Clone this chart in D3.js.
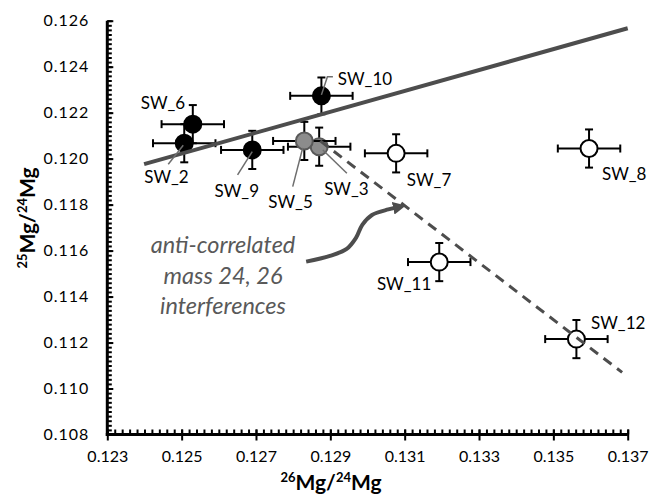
<!DOCTYPE html>
<html><head><meta charset="utf-8">
<script src="https://cdn.jsdelivr.net/npm/d3@7"></script>
<style>
html,body{margin:0;padding:0;background:#fff;}
svg{display:block;font-family:Lato,"Open Sans",sans-serif;}
</style></head>
<body><svg id="c" width="651" height="496"></svg>
<script>
// ---- data ----
const samples = ["SW_2","SW_3","SW_5","SW_6","SW_7","SW_8","SW_9","SW_10","SW_11","SW_12"];
const mg26 = [0.12507,0.12870,0.12830,0.12530,0.13077,0.13596,0.12690,0.12876,0.13193,0.13562];
const mg25 = [0.12067,0.12052,0.12077,0.12150,0.12023,0.12044,0.12038,0.12273,0.11550,0.11215];
const mg26Err = [0.00084,0.00084,0.00084,0.00084,0.00084,0.00084,0.00084,0.00084,0.00084,0.00084];
const mg25Err = [0.00083,0.00083,0.00083,0.00083,0.00083,0.00083,0.00083,0.00080,0.00083,0.00083];
const groups = ["filled","grey","grey","filled","open","open","filled","filled","open","open"];
const xTicks = [0.123,0.125,0.127,0.129,0.131,0.133,0.135,0.137];
const yTicks = [0.108,0.110,0.112,0.114,0.116,0.118,0.120,0.122,0.124,0.126];
const trendX = [0.12399,0.137];
const trendY = [0.11976,0.12567];
const interfX = [0.12873,0.13685];
const interfY = [0.12077,0.11070];
const arrowX = [0.12835,0.12899,0.12944,0.12969,0.12986,0.13012,0.13056,0.13099];
const arrowY = [0.11552,0.11577,0.11607,0.11655,0.11712,0.11755,0.11779,0.11789];
const noteLines = ["anti-correlated","mass 24, 26","interferences"];

// ---- layout / style ----
const L=107.3, R=627.7, T=20.7, B=434.5;
const fills = {filled:"#000", grey:"#8c8c8c", open:"#fff"};
const strokes = {filled:"#000", grey:"#595959", open:"#000"};
const labelPos = { // dx,dy of label; leader (relative points) or null
  "SW_2":{dx:-40,dy:40,lead:[[-16,21],[-1,2]]},
  "SW_3":{dx:5,dy:48,lead:[[27.7,26.6],[3.7,3.3]]},
  "SW_5":{dx:-36,dy:67,lead:[[-11.6,45.7],[-1.6,7]]},
  "SW_6":{dx:-52,dy:-15,lead:null},
  "SW_7":{dx:10.7,dy:32.7,lead:null},
  "SW_8":{dx:13,dy:31.3,lead:null},
  "SW_9":{dx:-37.7,dy:46.7,lead:[[-14.7,25],[0,1.7]]},
  "SW_10":{dx:16.4,dy:-11,lead:[[0,-1],[6,-19],[11.5,-19]]},
  "SW_11":{dx:-62.3,dy:27.7,lead:null},
  "SW_12":{dx:14.7,dy:-10.3,lead:null}
};

const svg = d3.select("#c");
const x = d3.scaleLinear().domain([0.123,0.137]).range([L,R]);
const y = d3.scaleLinear().domain([0.108,0.126]).range([B,T]);
const data = samples.map((s,i)=>({s,x:mg26[i],y:mg25[i],ex:mg26Err[i],ey:mg25Err[i],g:groups[i]}));

// minor ticks
const xMinor = d3.range(0,71).map(i=>+(0.123+i*0.0002).toFixed(4));
const yMinor = d3.range(0,91).map(i=>+(0.108+i*0.0002).toFixed(4));

function styleAxis(g){
  g.selectAll(".tick line").attr("stroke","#000").attr("stroke-width",2);
  g.select(".domain").remove();
}
// x axis
svg.append("g").attr("transform",`translate(0,${B})`)
  .call(d3.axisTop(x).tickValues(xMinor).tickSize(5).tickFormat("")).call(styleAxis);
const gx = svg.append("g").attr("transform",`translate(0,${B})`)
  .call(d3.axisBottom(x).tickValues(xTicks).tickSize(6).tickPadding(10).tickFormat(d3.format(".3f")));
styleAxis(gx);
gx.selectAll(".tick line").attr("y1",-5);
gx.selectAll("text").attr("font-family","Lato").attr("font-size",16).attr("fill","#000");
// y axis
svg.append("g").attr("transform",`translate(${L},0)`)
  .call(d3.axisRight(y).tickValues(yMinor).tickSize(4.5).tickFormat("")).call(styleAxis);
const gy = svg.append("g").attr("transform",`translate(${L},0)`)
  .call(d3.axisLeft(y).tickValues(yTicks).tickSize(7).tickPadding(11).tickFormat(d3.format(".3f")));
styleAxis(gy);
gy.selectAll(".tick line").attr("x2",6);
gy.selectAll("text").attr("font-family","Lato").attr("font-size",16).attr("letter-spacing","1px").attr("fill","#000");
// axis lines
svg.append("line").attr("x1",L).attr("x2",L).attr("y1",T).attr("y2",B+1.5).attr("stroke","#000").attr("stroke-width",3);
svg.append("line").attr("x1",L-1.5).attr("x2",R).attr("y1",B).attr("y2",B).attr("stroke","#000").attr("stroke-width",3);

// error bars + markers
const cap=4;
const pg = svg.append("g");
data.forEach(d=>{
  const cx=x(d.x), cy=y(d.y), x0=x(d.x-d.ex), x1=x(d.x+d.ex), y0=y(d.y-d.ey), y1=y(d.y+d.ey);
  const g = pg.append("g").attr("stroke","#000").attr("stroke-width",2);
  g.append("line").attr("x1",x0).attr("x2",x1).attr("y1",cy).attr("y2",cy);
  g.append("line").attr("x1",x0).attr("x2",x0).attr("y1",cy-cap).attr("y2",cy+cap);
  g.append("line").attr("x1",x1).attr("x2",x1).attr("y1",cy-cap).attr("y2",cy+cap);
  g.append("line").attr("x1",cx).attr("x2",cx).attr("y1",y0).attr("y2",y1);
  g.append("line").attr("x1",cx-cap).attr("x2",cx+cap).attr("y1",y0).attr("y2",y0);
  g.append("line").attr("x1",cx-cap).attr("x2",cx+cap).attr("y1",y1).attr("y2",y1);
  pg.append("circle").attr("cx",cx).attr("cy",cy).attr("r",8.5)
    .attr("fill",fills[d.g]).attr("stroke",strokes[d.g]).attr("stroke-width",2);
});

// trend lines
svg.append("line").attr("x1",x(trendX[0])).attr("y1",y(trendY[0])).attr("x2",x(trendX[1])).attr("y2",y(trendY[1]))
  .attr("stroke","#4d4d4d").attr("stroke-width",4);
svg.append("line").attr("x1",x(interfX[0])).attr("y1",y(interfY[0])).attr("x2",x(interfX[1])).attr("y2",y(interfY[1]))
  .attr("stroke","#4d4d4d").attr("stroke-width",3).attr("stroke-dasharray","10,7");

// labels + leaders
data.forEach(d=>{
  const p = labelPos[d.s], cx=x(d.x), cy=y(d.y);
  if(p.lead){
    svg.append("polyline").attr("points",p.lead.map(q=>[cx+q[0],cy+q[1]].join(",")).join(" "))
      .attr("fill","none").attr("stroke","#6e6e6e").attr("stroke-width",1.5);
  }
  svg.append("text").attr("x",cx+p.dx).attr("y",cy+p.dy).attr("font-size",17).attr("fill","#000").text(d.s);
});

// arrow
const defs = svg.append("defs");
defs.append("marker").attr("id","ah").attr("markerUnits","userSpaceOnUse")
  .attr("viewBox","0 0 12 12").attr("refX",2).attr("refY",6).attr("markerWidth",13).attr("markerHeight",13)
  .attr("orient","auto").append("path").attr("d","M0,0 L12,6 L0,12 Z").attr("fill","#4d4d4d");
const arrowPts = arrowX.map((v,i)=>[x(v),y(arrowY[i])]);
const last = arrowPts[arrowPts.length-1];
arrowPts[arrowPts.length-1] = [last[0]-9,last[1]+0.6];
svg.append("path").attr("d",d3.line().curve(d3.curveCatmullRom)(arrowPts))
  .attr("fill","none").attr("stroke","#4d4d4d").attr("stroke-width",4).attr("marker-end","url(#ah)");

// annotation text
noteLines.forEach((t,i)=>{
  svg.append("text").attr("x",223).attr("y",253+i*30.5).attr("text-anchor","middle")
    .attr("font-style","italic").attr("font-size",23.5).attr("fill","#595959").text(t);
});

// axis titles
const xt = svg.append("text").attr("x",331).attr("y",490).attr("text-anchor","middle")
  .attr("font-weight","bold").attr("font-size",21).attr("fill","#000");
xt.append("tspan").attr("font-size",13).attr("dy",-8).text("26");
xt.append("tspan").attr("dy",8).text("Mg/");
xt.append("tspan").attr("font-size",13).attr("dy",-8).text("24");
xt.append("tspan").attr("dy",8).text("Mg");
const yt = svg.append("text").attr("transform","translate(35,218) rotate(-90)").attr("text-anchor","middle")
  .attr("font-weight","bold").attr("font-size",21).attr("fill","#000");
yt.append("tspan").attr("font-size",13).attr("dy",-8).text("25");
yt.append("tspan").attr("dy",8).text("Mg/");
yt.append("tspan").attr("font-size",13).attr("dy",-8).text("24");
yt.append("tspan").attr("dy",8).text("Mg");
</script></body></html>
